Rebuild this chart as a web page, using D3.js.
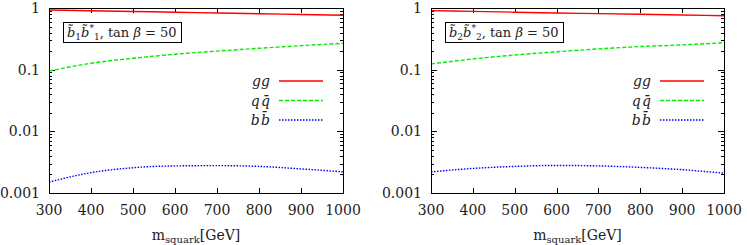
<!DOCTYPE html>
<html>
<head>
<meta charset="utf-8">
<script src="https://cdn.jsdelivr.net/npm/d3@7"></script>
<style>
  body { margin: 0; background: #fff; }
</style>
</head>
<body>
<div id="chart"></div>
<script>
// values
var mass = [300, 400, 500, 600, 700, 800, 900, 1000];

var b1_gg = [0.93, 0.904, 0.879, 0.855, 0.831, 0.808, 0.785, 0.763];
var b1_qq = [0.095, 0.127, 0.153, 0.178, 0.2, 0.222, 0.245, 0.268];
var b1_bb = [0.0015, 0.00214, 0.00257, 0.00275, 0.00278, 0.0027, 0.00246, 0.0022];

var b2_gg = [0.905, 0.88, 0.855, 0.83, 0.81, 0.79, 0.77, 0.75];
var b2_qq = [0.124, 0.149, 0.173, 0.195, 0.217, 0.237, 0.252, 0.274];
var b2_bb = [0.0022, 0.0025, 0.0027, 0.0028, 0.00275, 0.0026, 0.00239, 0.0021];

var xTicks = [300, 400, 500, 600, 700, 800, 900, 1000];
var yTicks = [0.001, 0.01, 0.1, 1];
var yTickLabels = ["0.001", "0.01", "0.1", "1"];

var width = 747, height = 245;

var svg = d3.select("#chart").append("svg")
    .attr("width", width)
    .attr("height", height)
    .style("font-family", "'DejaVu Serif', serif");

var series = [
  {key: "gg", color: "#ff0000", dash: null},
  {key: "qq", color: "#00ee00", dash: "4,2"},
  {key: "bb", color: "#0000ff", dash: "1.5,1.5"}
];

function panel(left, right, idx, vals) {
  var top = 8, bottom = 193;

  var x = d3.scaleLinear().domain([300, 1000]).range([left, right]);
  var y = d3.scaleLog().domain([0.001, 1]).range([bottom, top]);

  var g = svg.append("g").attr("fill", "#222");

  // minor ticks on log axis (both sides, inward)
  var minors = [];
  [0.001, 0.01, 0.1].forEach(function(d) {
    for (var k = 2; k <= 9; k++) minors.push(d * k);
  });
  g.selectAll(".ymin").data(minors).enter().append("path")
    .attr("d", function(d) {
      var yy = Math.round(y(d)) + 0.5;
      return "M" + left + "," + yy + "h3M" + right + "," + yy + "h-3";
    })
    .attr("stroke", "#000").attr("stroke-width", 1);

  g.selectAll(".ymaj").data(yTicks).enter().append("path")
    .attr("d", function(d) {
      var yy = Math.round(y(d)) + 0.5;
      return "M" + left + "," + yy + "h6M" + right + "," + yy + "h-6";
    })
    .attr("stroke", "#000").attr("stroke-width", 1);

  g.selectAll(".xmaj").data(xTicks).enter().append("path")
    .attr("d", function(d) {
      var xx = Math.round(x(d)) + 0.5;
      return "M" + xx + "," + bottom + "v-5M" + xx + "," + top + "v5";
    })
    .attr("stroke", "#000").attr("stroke-width", 1);

  // tick labels
  g.selectAll(".ylab").data(yTicks).enter().append("text")
    .attr("x", left - 9)
    .attr("y", function(d) { return y(d) + 5; })
    .attr("text-anchor", "end")
    .attr("font-size", 14)
    .text(function(d, i) { return yTickLabels[i]; });

  g.selectAll(".xlab").data(xTicks).enter().append("text")
    .attr("x", function(d) { return x(d); })
    .attr("y", bottom + 22)
    .attr("text-anchor", "middle")
    .attr("font-size", 14)
    .text(function(d) { return d; });

  // x axis title
  var xt = g.append("text")
    .attr("x", (left + right) / 2)
    .attr("y", 240)
    .attr("text-anchor", "middle")
    .attr("font-size", 14);
  xt.append("tspan").text("m");
  xt.append("tspan").attr("font-size", 10).attr("dy", 3).text("squark");
  xt.append("tspan").attr("dy", -3).text("[GeV]");

  // lines
  var line = d3.line()
    .x(function(d) { return x(d[0]); })
    .y(function(d) { return y(d[1]); })
    .curve(d3.curveMonotoneX);

  var clip = "clip" + idx;
  svg.append("clipPath").attr("id", clip)
    .append("rect").attr("x", left).attr("y", top)
    .attr("width", right - left).attr("height", bottom - top);

  series.forEach(function(s) {
    g.append("path")
      .datum(mass.map(function(m, i) { return [m, vals[s.key][i]]; }))
      .attr("d", line)
      .attr("clip-path", "url(#" + clip + ")")
      .attr("fill", "none")
      .attr("stroke", s.color)
      .attr("stroke-width", 1.4)
      .attr("stroke-dasharray", s.dash);
  });

  // frame
  g.append("rect")
    .attr("x", left + 0.5).attr("y", top + 0.5)
    .attr("width", right - left).attr("height", bottom - top)
    .attr("fill", "none").attr("stroke", "#000").attr("stroke-width", 1);

  // label box
  var bx = left + 14, by = 22;
  var lt = g.append("text")
    .attr("x", bx + 4).attr("y", by + 15)
    .attr("font-size", 13);
  lt.append("tspan").attr("font-style", "italic").text("b\u0303");
  lt.append("tspan").attr("font-size", 9).attr("dy", 3).text(idx);
  lt.append("tspan").attr("dy", -3).attr("font-style", "italic").text("b\u0303");
  lt.append("tspan").attr("font-size", 9).attr("dy", -6).text("*");
  lt.append("tspan").attr("font-size", 9).attr("dy", 9).text(idx);
  lt.append("tspan").attr("dy", -3).text(", tan ");
  lt.append("tspan").attr("font-style", "italic").text("\u03b2");
  lt.append("tspan").text(" = 50");
  var bb = lt.node().getBBox();
  g.append("rect")
    .attr("x", bx + 0.5).attr("y", by + 0.5)
    .attr("width", Math.round(bb.width) + 8).attr("height", 20)
    .attr("fill", "none").attr("stroke", "#000").attr("stroke-width", 1);

  // legend
  var names = {gg: "gg", qq: "q\u200aq\u0304", bb: "b\u200ab\u0304"};
  var lx1 = right - 64, lx2 = right - 20;
  series.forEach(function(s, i) {
    var ly = 81 + i * 19.5;
    g.append("text")
      .attr("x", lx1 - 9).attr("y", ly + 5)
      .attr("text-anchor", "end")
      .attr("font-size", 14)
      .attr("font-style", "italic")
      .text(names[s.key]);
    g.append("line")
      .attr("x1", lx1).attr("x2", lx2)
      .attr("y1", ly).attr("y2", ly)
      .attr("stroke", s.color)
      .attr("stroke-width", 1.4)
      .attr("stroke-dasharray", s.dash);
  });
}

panel(49, 343, 1, {gg: b1_gg, qq: b1_qq, bb: b1_bb});
panel(431, 724, 2, {gg: b2_gg, qq: b2_qq, bb: b2_bb});
</script>
</body>
</html>
